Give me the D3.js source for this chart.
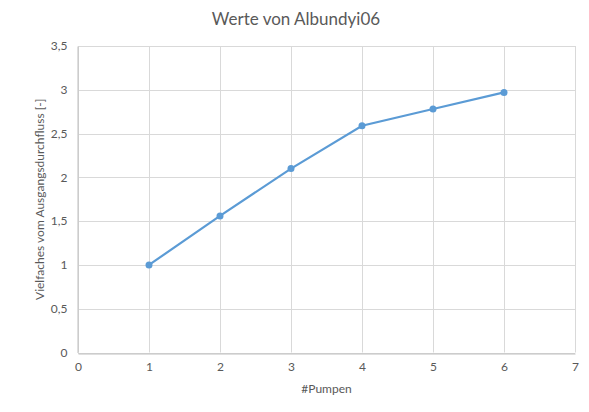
<!DOCTYPE html>
<html><head><meta charset="utf-8">
<script src="https://cdn.jsdelivr.net/npm/d3@7"></script>
<style>body{margin:0;background:#fff}svg{display:block}text{font-family:Lato,"Open Sans",sans-serif;fill:#595959}</style>
</head><body><svg id="c" width="589" height="412"></svg>
<script>
const pumps = [1, 2, 3, 4, 5, 6];
const values = [1.0, 1.56, 2.1, 2.59, 2.78, 2.97];
const xTicks = [0, 1, 2, 3, 4, 5, 6, 7];
const yTicks = [0, 0.5, 1, 1.5, 2, 2.5, 3, 3.5];
const title = "Werte von Albundyi06";
const xTitle = "#Pumpen";
const yTitle = "Vielfaches vom Ausgangsdurchfluss [-]";

const svg = d3.select("#c");
const L = 78, R = 575, T = 46, B = 352.5;
const x = d3.scaleLinear().domain([0, 7]).range([L, R]);
const y = d3.scaleLinear().domain([0, 3.5]).range([B, T]);
const fmt = d => String(d).replace(".", ",");

// grid
const g = svg.append("g");
g.selectAll(".h").data(yTicks).join("line")
  .attr("x1", L).attr("x2", R).attr("y1", d => Math.round(y(d)) + 0.5).attr("y2", d => Math.round(y(d)) + 0.5)
  .attr("stroke", "#d9d9d9").attr("stroke-width", 1);
g.selectAll(".v").data(xTicks).join("line")
  .attr("y1", T).attr("y2", B).attr("x1", d => Math.round(x(d)) + 0.5).attr("x2", d => Math.round(x(d)) + 0.5)
  .attr("stroke", "#d9d9d9").attr("stroke-width", 1);
// axis lines
const xa = svg.append("g").attr("transform", `translate(0,${Math.round(B) + 0.5})`)
  .call(d3.axisBottom(x).tickValues(xTicks).tickSize(0).tickPadding(9).tickFormat(fmt));
xa.select(".domain").attr("stroke", "#bfbfbf");
xa.selectAll("text").attr("font-size", 12).style("fill", "#595959");
const ya = svg.append("g").attr("transform", `translate(${Math.round(L) - 0.5},0)`)
  .call(d3.axisLeft(y).tickValues(yTicks).tickSize(0).tickPadding(10).tickFormat(fmt));
ya.select(".domain").attr("stroke", "#bfbfbf");
ya.selectAll("text").attr("font-size", 12).style("fill", "#595959");

// line
const data = pumps.map((p, i) => ({p, v: values[i]}));
svg.append("path").datum(data)
  .attr("d", d3.line().x(d => x(d.p)).y(d => y(d.v)))
  .attr("fill", "none").attr("stroke", "#5b9bd5").attr("stroke-width", 2.2).attr("stroke-linecap", "round");
svg.selectAll(".pt").data(data).join("circle")
  .attr("cx", d => x(d.p)).attr("cy", d => y(d.v)).attr("r", 3.5).attr("fill", "#5b9bd5");

svg.append("text").attr("x", 296).attr("y", 25).attr("text-anchor", "middle").attr("font-size", 17).text(title);
svg.append("text").attr("x", (L + R) / 2).attr("y", 393).attr("text-anchor", "middle").attr("font-size", 12).text(xTitle);
svg.append("text").attr("transform", `translate(44,${(T + B) / 2}) rotate(-90)`).attr("text-anchor", "middle").attr("font-size", 12).text(yTitle);
</script></body></html>
